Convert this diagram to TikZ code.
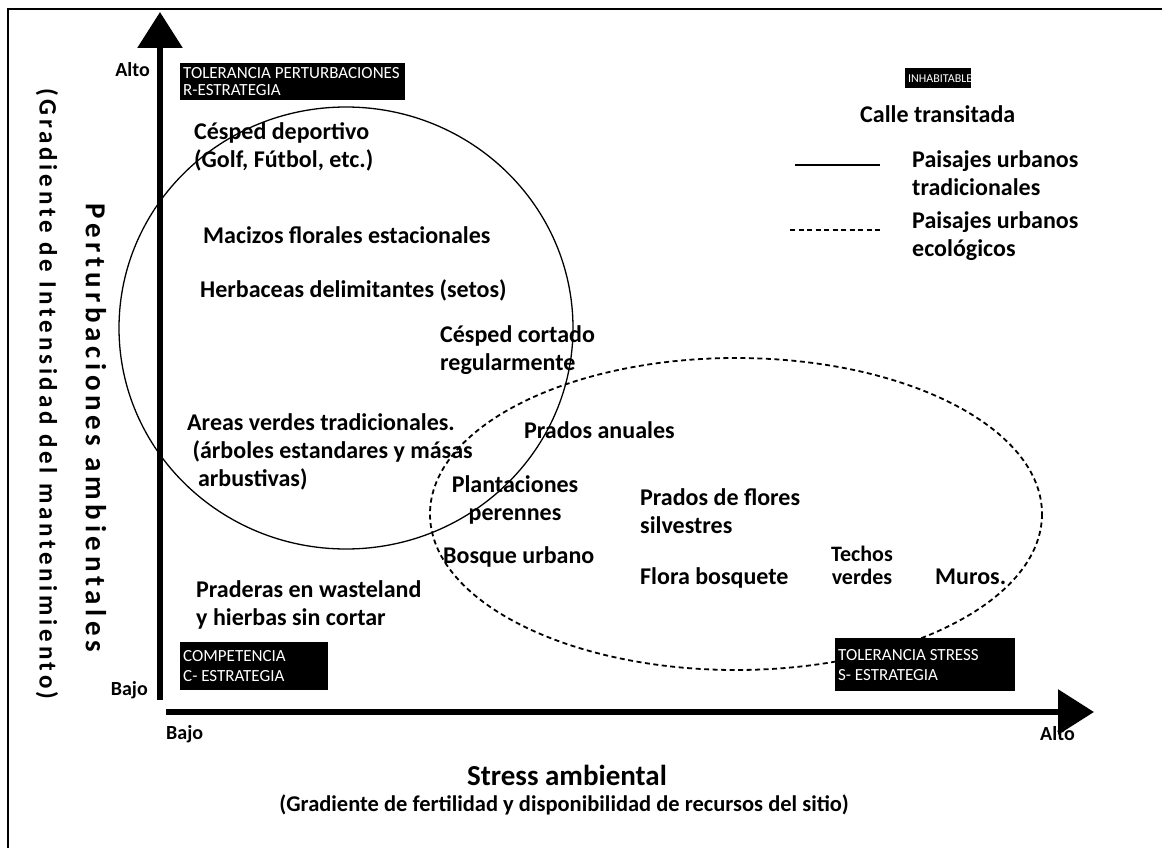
\documentclass[tikz,border=0pt]{standalone}
\usepackage{fontspec}
\setmainfont{Carlito}
\usetikzlibrary{arrows.meta}

\begin{document}
\begin{tikzpicture}[x=1pt,y=-1pt,
  lbl/.style={font=\fontsize{24}{28}\selectfont\bfseries, anchor=west, inner sep=0pt, align=left},
  lblc/.style={lbl, anchor=center, align=center},
  tag/.style={fill=black, text=white, font=\fontsize{17}{20}\selectfont, anchor=north west,
              inner xsep=3pt, inner ysep=3pt, align=flush left},
  axisline/.style={line width=6pt, -{Triangle[width=44pt,length=36pt]}},
  solidzone/.style={line width=1.3pt},
  dashzone/.style={line width=1.8pt, dash pattern=on 5pt off 3.5pt},
]
\useasboundingbox (0,0) rectangle (1162,848);

% frame
\draw[line width=1.5pt] (8,848) -- (8,9) -- (1162,9);

% zones
\draw[solidzone] (346,328) ellipse [x radius=227, y radius=221];
\draw[dashzone] (736,514) ellipse [x radius=306, y radius=156];

% axes
\coordinate (ybot) at (160,700);
\coordinate (ytop) at (160,12);
\coordinate (xleft) at (166,712);
\coordinate (xright) at (1094,712);
\draw[axisline] (ybot) -- (ytop);
\draw[axisline] (xleft) -- (xright);

% axis labels
\node[lbl, anchor=east, font=\fontsize{20}{24}\selectfont\bfseries] (yalto) at (150,70) {Alto};
\node[lbl, anchor=east, font=\fontsize{20}{24}\selectfont\bfseries] (ybajo) at (148,690) {Bajo};
\node[lbl, font=\fontsize{20}{24}\selectfont\bfseries] (xbajo) at (166,734) {Bajo};
\node[lbl, font=\fontsize{20}{24}\selectfont\bfseries] (xalto) at (1040,734) {Alto};
\node[font=\fontsize{29}{32}\selectfont\bfseries] (xtitle) at (567,775) {Stress ambiental};
\node[font=\fontsize{22.5}{26}\selectfont\bfseries] (xsub) at (564,805) {(Gradiente de fertilidad y disponibilidad de recursos del sitio)};
\node[rotate=-90, font=\fontsize{29}{32}\selectfont\bfseries\addfontfeature{LetterSpace=16}] (ytitle) at (96,428) {Perturbaciones ambientales};
\node[rotate=-90, font=\fontsize{25}{28}\selectfont\bfseries\addfontfeature{LetterSpace=15}] (ysub) at (47,394) {(Gradiente de Intensidad del mantenimiento)};

% strategy tags
\node[tag, text width=219pt, minimum height=37pt, inner ysep=1pt, font=\fontsize{17}{17}\selectfont] (rtag) at (180,63) {TOLERANCIA PERTURBACIONES\\R-ESTRATEGIA};
\node[tag, font=\fontsize{12}{14}\selectfont, text width=60pt, minimum height=20pt] (itag) at (905,68) {INHABITABLE};
\node[tag, text width=142pt, minimum height=48pt] (ctag) at (180,642) {COMPETENCIA\\C- ESTRATEGIA};
\node[tag, text width=174pt, minimum height=53pt] (stag) at (835,638) {TOLERANCIA STRESS\\S- ESTRATEGIA};

% landscape types
\node[lbl] (calle) at (860,114) {Calle transitada};
\node[lbl] (deport) at (194,147) {Césped deportivo\\(Golf, Fútbol, etc.)};
\node[lbl] (macizos) at (203,235) {Macizos florales estacionales};
\node[lbl] (herb) at (200,290) {Herbaceas delimitantes (setos)};
\node[lbl] (cortado) at (440,350) {Césped cortado\\regularmente};
\node[lbl] (areas) at (187,452) {Areas verdes tradicionales.\\\ (árboles estandares y másas\\\ \ arbustivas)};
\node[lbl] (anuales) at (524,430) {Prados anuales};
\node[lblc] (plant) at (515,500) {Plantaciones\\perennes};
\node[lbl] (silv) at (640,511) {Prados de flores\\silvestres};
\node[lbl] (bosque) at (443,557) {Bosque urbano};
\node[lbl] (flora) at (640,578) {Flora bosquete};
\node[lblc, font=\fontsize{22}{23}\selectfont\bfseries] (techos) at (862,565) {Techos\\verdes};
\node[lbl] (muros) at (935,577) {Muros.};
\node[lbl] (prad) at (196,605) {Praderas en wasteland\\y hierbas sin cortar};

% legend
\coordinate (ls1) at (795,165);
\coordinate (ls2) at (880,165);
\coordinate (ld1) at (790,230);
\coordinate (ld2) at (880,230);
\draw[line width=1.5pt] (ls1) -- (ls2);
\draw[dashzone] (ld1) -- (ld2);
\node[lbl] (legtrad) at (912,173) {Paisajes urbanos\\tradicionales};
\node[lbl] (legeco) at (912,236) {Paisajes urbanos\\ecológicos};
\end{tikzpicture}
\end{document}
